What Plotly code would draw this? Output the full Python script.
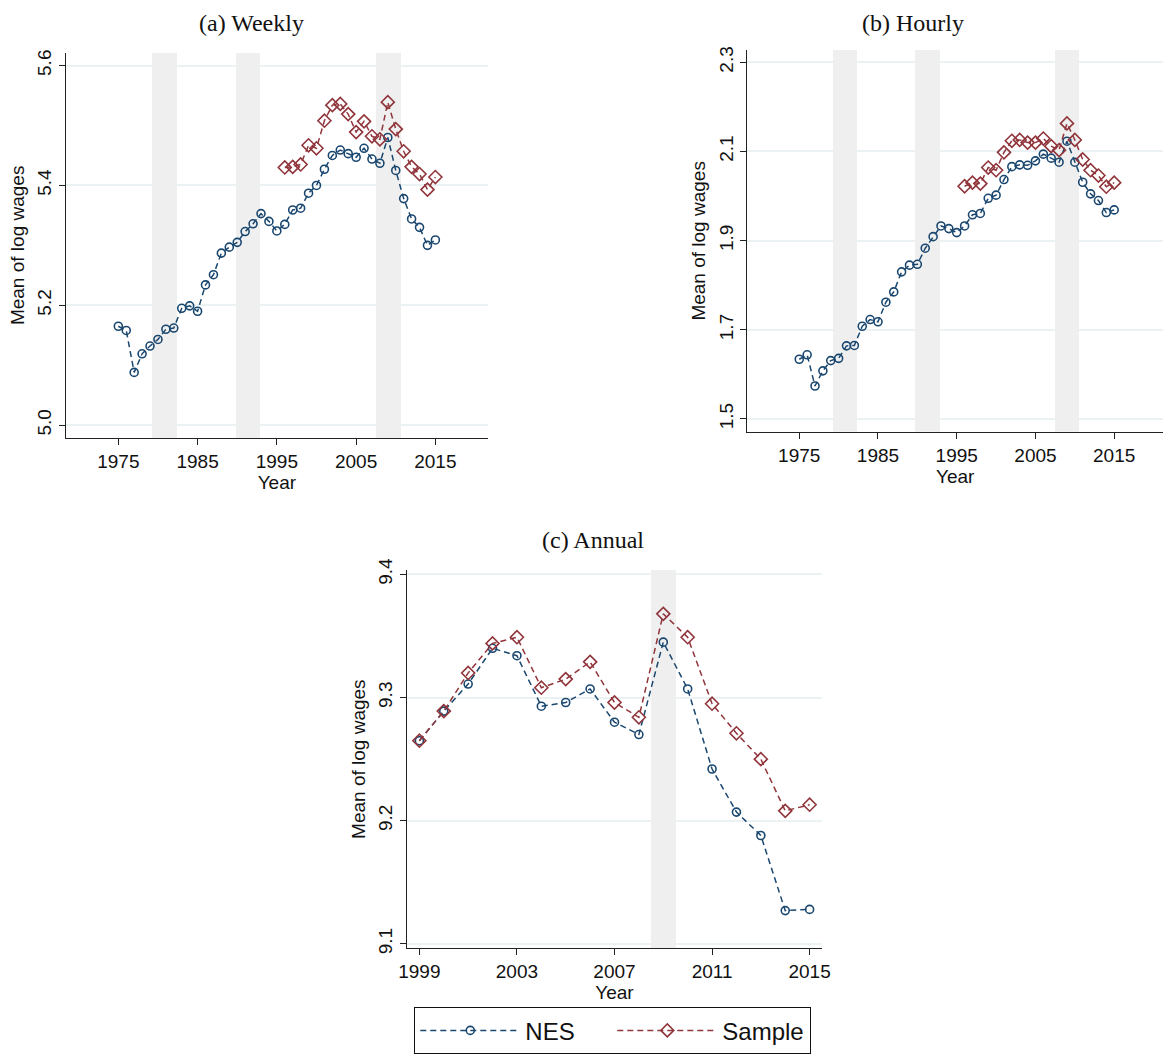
import plotly.graph_objects as go

# ---------------- data ----------------
years_long = list(range(1975, 2016))
years_sample = list(range(1996, 2016))
years_annual = list(range(1999, 2016))

weekly_nes = [5.165, 5.158, 5.088, 5.119, 5.132, 5.143, 5.160, 5.162, 5.195, 5.199,
              5.190, 5.234, 5.251, 5.287, 5.297, 5.305, 5.323, 5.336, 5.353, 5.340,
              5.324, 5.335, 5.359, 5.362, 5.387, 5.400, 5.427, 5.450, 5.459, 5.453,
              5.447, 5.462, 5.444, 5.437, 5.480, 5.425, 5.378, 5.344, 5.330, 5.300,
              5.309]
weekly_sample = [5.430, 5.431, 5.435, 5.467, 5.462, 5.508, 5.534, 5.536, 5.519, 5.489,
                 5.507, 5.482, 5.477, 5.539, 5.494, 5.457, 5.431, 5.419, 5.393, 5.414]

hourly_nes = [1.634, 1.644, 1.574, 1.608, 1.631, 1.636, 1.664, 1.665, 1.708, 1.723,
              1.718, 1.762, 1.785, 1.830, 1.845, 1.847, 1.883, 1.909, 1.933, 1.927,
              1.918, 1.933, 1.958, 1.961, 1.995, 2.002, 2.037, 2.066, 2.070, 2.069,
              2.079, 2.094, 2.085, 2.076, 2.123, 2.076, 2.031, 2.005, 1.990, 1.963,
              1.969]
hourly_sample = [2.022, 2.030, 2.028, 2.064, 2.058, 2.098, 2.124, 2.126, 2.120, 2.120,
                 2.129, 2.112, 2.103, 2.163, 2.126, 2.082, 2.058, 2.046, 2.021, 2.030]

annual_nes = [9.265, 9.289, 9.311, 9.340, 9.334, 9.293, 9.296, 9.307, 9.280, 9.270,
              9.345, 9.307, 9.242, 9.207, 9.188, 9.127, 9.128]
annual_sample = [9.265, 9.289, 9.320, 9.344, 9.349, 9.308, 9.315, 9.329, 9.296, 9.284,
                 9.368, 9.349, 9.295, 9.271, 9.250, 9.208, 9.213]

recession_start = [1979.3, 1989.8, 2007.5]
recession_end = [1982.4, 1992.9, 2010.6]
recession_start_annual = [2008.5]
recession_end_annual = [2009.5]

weekly_ticks = [5.0, 5.2, 5.4, 5.6]
hourly_ticks = [1.5, 1.7, 1.9, 2.1, 2.3]
annual_ticks = [9.1, 9.2, 9.3, 9.4]
long_xticks = [1975, 1985, 1995, 2005, 2015]
annual_xticks = [1999, 2003, 2007, 2011, 2015]

panel_titles = ["(a) Weekly", "(b) Hourly", "(c) Annual"]
series_names = ["NES", "Sample"]

# axis ranges (layout)
weekly_xrange = [1968.4, 2021.6]
weekly_yrange = [4.979, 5.621]
hourly_xrange = [1968.4, 2021.2]
hourly_yrange = [1.4715, 2.3276]
annual_xrange = [1998.48, 2015.52]
annual_yrange = [9.0964, 9.4036]

# ---------------- style ----------------
BLUE = "#1a476f"
RED = "#90353b"
SHADE = "#efefef"
SANS = "Liberation Sans, Arial, sans-serif"
SERIF = "Liberation Serif, Times New Roman, serif"
W, H = 1164, 1057

fig = go.Figure()


def add_shading(starts, ends, yrange, ax):
    centers = [(s + e) / 2 for s, e in zip(starts, ends)]
    widths = [e - s for s, e in zip(starts, ends)]
    fig.add_trace(go.Bar(
        x=centers, width=widths, y=[yrange[1] - yrange[0]] * len(starts),
        base=[yrange[0]] * len(starts), marker=dict(color=SHADE, line=dict(width=0)),
        hoverinfo="skip", showlegend=False, xaxis="x" + ax, yaxis="y" + ax))


def add_pair(xs_n, ys_n, xs_s, ys_s, ax, show):
    fig.add_trace(go.Scatter(
        x=xs_n, y=ys_n, mode="lines+markers", name=series_names[0],
        line=dict(color=BLUE, width=1.5, dash="6px,4px"),
        marker=dict(symbol="circle-open", size=8, color=BLUE, line=dict(width=1.6, color=BLUE)),
        xaxis="x" + ax, yaxis="y" + ax, showlegend=show, legendrank=1))
    fig.add_trace(go.Scatter(
        x=xs_s, y=ys_s, mode="lines+markers", name=series_names[1],
        line=dict(color=RED, width=1.5, dash="6px,4px"),
        marker=dict(symbol="diamond-open", size=10, color=RED, line=dict(width=1.6, color=RED)),
        xaxis="x" + ax, yaxis="y" + ax, showlegend=show, legendrank=2))


add_shading(recession_start, recession_end, weekly_yrange, "")
add_shading(recession_start, recession_end, hourly_yrange, "2")
add_shading(recession_start_annual, recession_end_annual, annual_yrange, "3")

add_pair(years_long, weekly_nes, years_sample, weekly_sample, "", False)
add_pair(years_long, hourly_nes, years_sample, hourly_sample, "2", False)
add_pair(years_annual, annual_nes, years_annual, annual_sample, "3", True)


def xax(domain, rng, ticks, anchor):
    return dict(domain=domain, range=rng, tickvals=ticks, anchor=anchor, automargin=False,
                showgrid=False, zeroline=False, showline=True, linecolor="#222",
                linewidth=1.3, ticks="outside", ticklen=6, tickcolor="#222", tickwidth=1.2,
                tickfont=dict(family=SANS, size=19, color="#111"),
                title=dict(text="Year", font=dict(family=SANS, size=19, color="#111"), standoff=0))


def yax(domain, rng, ticks, anchor):
    return dict(domain=domain, range=rng, tickvals=ticks, anchor=anchor, automargin=False,
                tickformat=".1f", tickangle=-90,
                showgrid=True, gridcolor="#eaf2f3", gridwidth=2, zeroline=False,
                showline=True, linecolor="#222", linewidth=1.3,
                ticks="outside", ticklen=6, tickcolor="#222", tickwidth=1.2,
                tickfont=dict(family=SANS, size=19, color="#111"),
                title=dict(text="Mean of log wages", font=dict(family=SANS, size=19, color="#111"),
                           standoff=4))


def title_ann(text, xpx, ypx):
    return dict(text=text, x=xpx / W, y=(H - ypx) / H, xref="paper", yref="paper",
                xanchor="center", yanchor="middle", showarrow=False,
                font=dict(family=SERIF, size=24, color="#111"))


fig.update_layout(
    width=W, height=H,
    margin=dict(l=0, r=0, t=0, b=0, autoexpand=False),
    paper_bgcolor="white", plot_bgcolor="white",
    barmode="overlay", bargap=0,
    xaxis=xax([66 / W, 487.7 / W], weekly_xrange, long_xticks, "y"),
    yaxis=yax([(H - 437.7) / H, (H - 53) / H], weekly_yrange, weekly_ticks, "x"),
    xaxis2=xax([747.3 / W, 1163 / W], hourly_xrange, long_xticks, "y2"),
    yaxis2=yax([(H - 431.7) / H, (H - 50) / H], hourly_yrange, hourly_ticks, "x2"),
    xaxis3=xax([406.7 / W, 822.3 / W], annual_xrange, annual_xticks, "y3"),
    yaxis3=yax([(H - 948.3) / H, (H - 570) / H], annual_yrange, annual_ticks, "x3"),
    showlegend=True,
    legend=dict(orientation="h", x=414 / W, y=(H - 1054) / H, xanchor="left", yanchor="bottom",
                bordercolor="#111", borderwidth=1.3, bgcolor="white",
                font=dict(family=SANS, size=24, color="#111"),
                itemwidth=100, entrywidth=82, entrywidthmode="pixels",
                traceorder="normal"),
    annotations=[
        title_ann(panel_titles[0], 251, 23),
        title_ann(panel_titles[1], 913, 23),
        title_ann(panel_titles[2], 593, 540),
    ],
)

fig.write_html("out.html")
